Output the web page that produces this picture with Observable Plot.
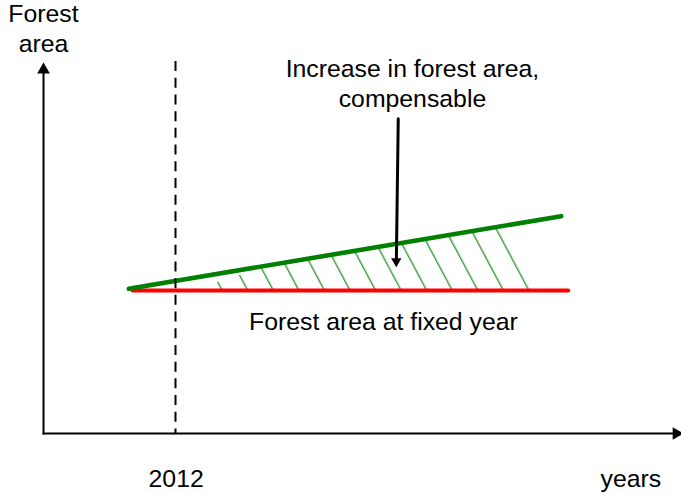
<!DOCTYPE html>
<html>
<head>
<meta charset="utf-8">
<script src="https://cdn.jsdelivr.net/npm/d3@7"></script>
<script src="https://cdn.jsdelivr.net/npm/@observablehq/plot@0.6"></script>
<style>
  html, body { margin: 0; padding: 0; background: #fff; }
</style>
</head>
<body>
<div id="chart"></div>
<script>
// ---- data (conceptual diagram: years vs. forest area index) ----
const axisYears = [2008, 2027.4];          // x-axis extent (origin, arrow tip)
const axisArea = [0, 259.4];               // y-axis extent (origin, arrow tip)
const baseYear = 2012;                     // reference year (dashed line)
const baseLineTop = 260.1;

const increaseYears = [2010.585, 2023.688]; // green line: increasing forest area
const increaseArea = [101.2, 151.96];

const fixedYears = [2010.7, 2023.9];        // red line: forest area at fixed year
const fixedArea = [100, 100];

const hatchYears = [2012.455, 2014.727, 2022.394, 2022.758]; // hatched region outline
const hatchArea = [100, 116.64, 146.15, 100];

const pointerYears = [2018.75, 2018.69];   // annotation arrow
const pointerArea = [220.1, 116.3];

const labelText = ["Forest\narea", "Increase in forest area,\ncompensable", "Forest area at fixed year", "2012", "years"];
const labelYear = [2008, 2019.18, 2018.3, 2012.02, 2025.8];
const labelArea = [266.6, 228.2, 72.5, -37.6, -37.6];

// ---- tables built from the arrays ----
const increase = increaseYears.map((x, i) => ({x, y: increaseArea[i]}));
const fixed = fixedYears.map((x, i) => ({x, y: fixedArea[i]}));
const hatch = hatchYears.map((x, i) => ({x, y: hatchArea[i]}));
const labels = labelText.map((t, i) => ({t, x: labelYear[i], y: labelArea[i]}));

const font = "'Liberation Sans', Arial, Helvetica, sans-serif";
const green = "#008000";
const red = "#ff0000";

function tri(h) { // radius for a d3 triangle symbol of height h
  const yy = h / 3;
  return Math.sqrt(yy * yy * 3 * Math.sqrt(3) / Math.PI);
}

const chart = Plot.plot({
  width: 681,
  height: 493,
  marginTop: 0, marginRight: 0, marginBottom: 0, marginLeft: 0,
  x: {type: "linear", domain: [2008, 2012], range: [43, 175], axis: null},
  y: {type: "linear", domain: [0, 100], range: [433, 290], axis: null},
  style: {background: "#fff", overflow: "visible"},
  marks: [
    // hatched region
    Plot.line(hatch, {x: "x", y: "y", fill: "url(#hatch)", stroke: "none", curve: "linear-closed"}),
    // fixed-year forest area (red)
    Plot.line(fixed, {x: "x", y: "y", stroke: red, strokeWidth: 4}),
    // increasing forest area (green)
    Plot.line(increase, {x: "x", y: "y", stroke: green, strokeWidth: 4.6}),
    // dashed reference year
    Plot.ruleX([baseYear], {x: d => d, y1: baseLineTop, y2: 0, stroke: "#000", strokeWidth: 2, strokeDasharray: "10,6.7"}),
    // axes
    Plot.arrow([0], {x1: axisYears[0], y1: axisArea[0], x2: axisYears[0], y2: axisArea[1], headLength: 0, insetEnd: 8, stroke: "#000", strokeWidth: 2, strokeLinecap: "square"}),
    Plot.arrow([0], {x1: axisYears[0], y1: axisArea[0], x2: axisYears[1], y2: axisArea[0], headLength: 0, insetEnd: 8, stroke: "#000", strokeWidth: 2, strokeLinecap: "square"}),
    Plot.dot([0], {x: axisYears[0], y: axisArea[1], symbol: "triangle", r: tri(11), fill: "#000", stroke: "none", dy: 11 * 2 / 3}),
    Plot.dot([0], {x: axisYears[1], y: axisArea[0], symbol: "triangle", r: tri(11), rotate: 90, fill: "#000", stroke: "none", dx: -11 * 2 / 3}),
    // annotation pointer
    Plot.arrow([0], {x1: pointerYears[0], y1: pointerArea[0], x2: pointerYears[1], y2: pointerArea[1], headLength: 0, insetEnd: 6, stroke: "#000", strokeWidth: 3}),
    Plot.dot([0], {x: pointerYears[1], y: pointerArea[1], symbol: "triangle", r: tri(9), rotate: 180, fill: "#000", stroke: "none", dy: -6}),
    // labels
    Plot.text(labels, {x: "x", y: "y", text: "t", fontSize: 24.8, fontFamily: font, fill: "#000", lineAnchor: "bottom", lineHeight: 1.23, textAnchor: "middle"})
  ]
});

const svg = chart.tagName.toLowerCase() === "svg" ? chart : chart.querySelector("svg");
const ns = "http://www.w3.org/2000/svg";
const defs = document.createElementNS(ns, "defs");
const pattern = document.createElementNS(ns, "pattern");
pattern.setAttribute("id", "hatch");
pattern.setAttribute("patternUnits", "userSpaceOnUse");
pattern.setAttribute("width", "22.57");
pattern.setAttribute("height", "10");
pattern.setAttribute("patternTransform", "rotate(-28)");
const hl = document.createElementNS(ns, "line");
hl.setAttribute("x1", "14.5"); hl.setAttribute("x2", "14.5");
hl.setAttribute("y1", "-1"); hl.setAttribute("y2", "11");
hl.setAttribute("stroke", green);
hl.setAttribute("stroke-width", "1.1");
pattern.appendChild(hl);
defs.appendChild(pattern);
svg.insertBefore(defs, svg.firstChild);

document.getElementById("chart").appendChild(chart);
</script>
</body>
</html>
